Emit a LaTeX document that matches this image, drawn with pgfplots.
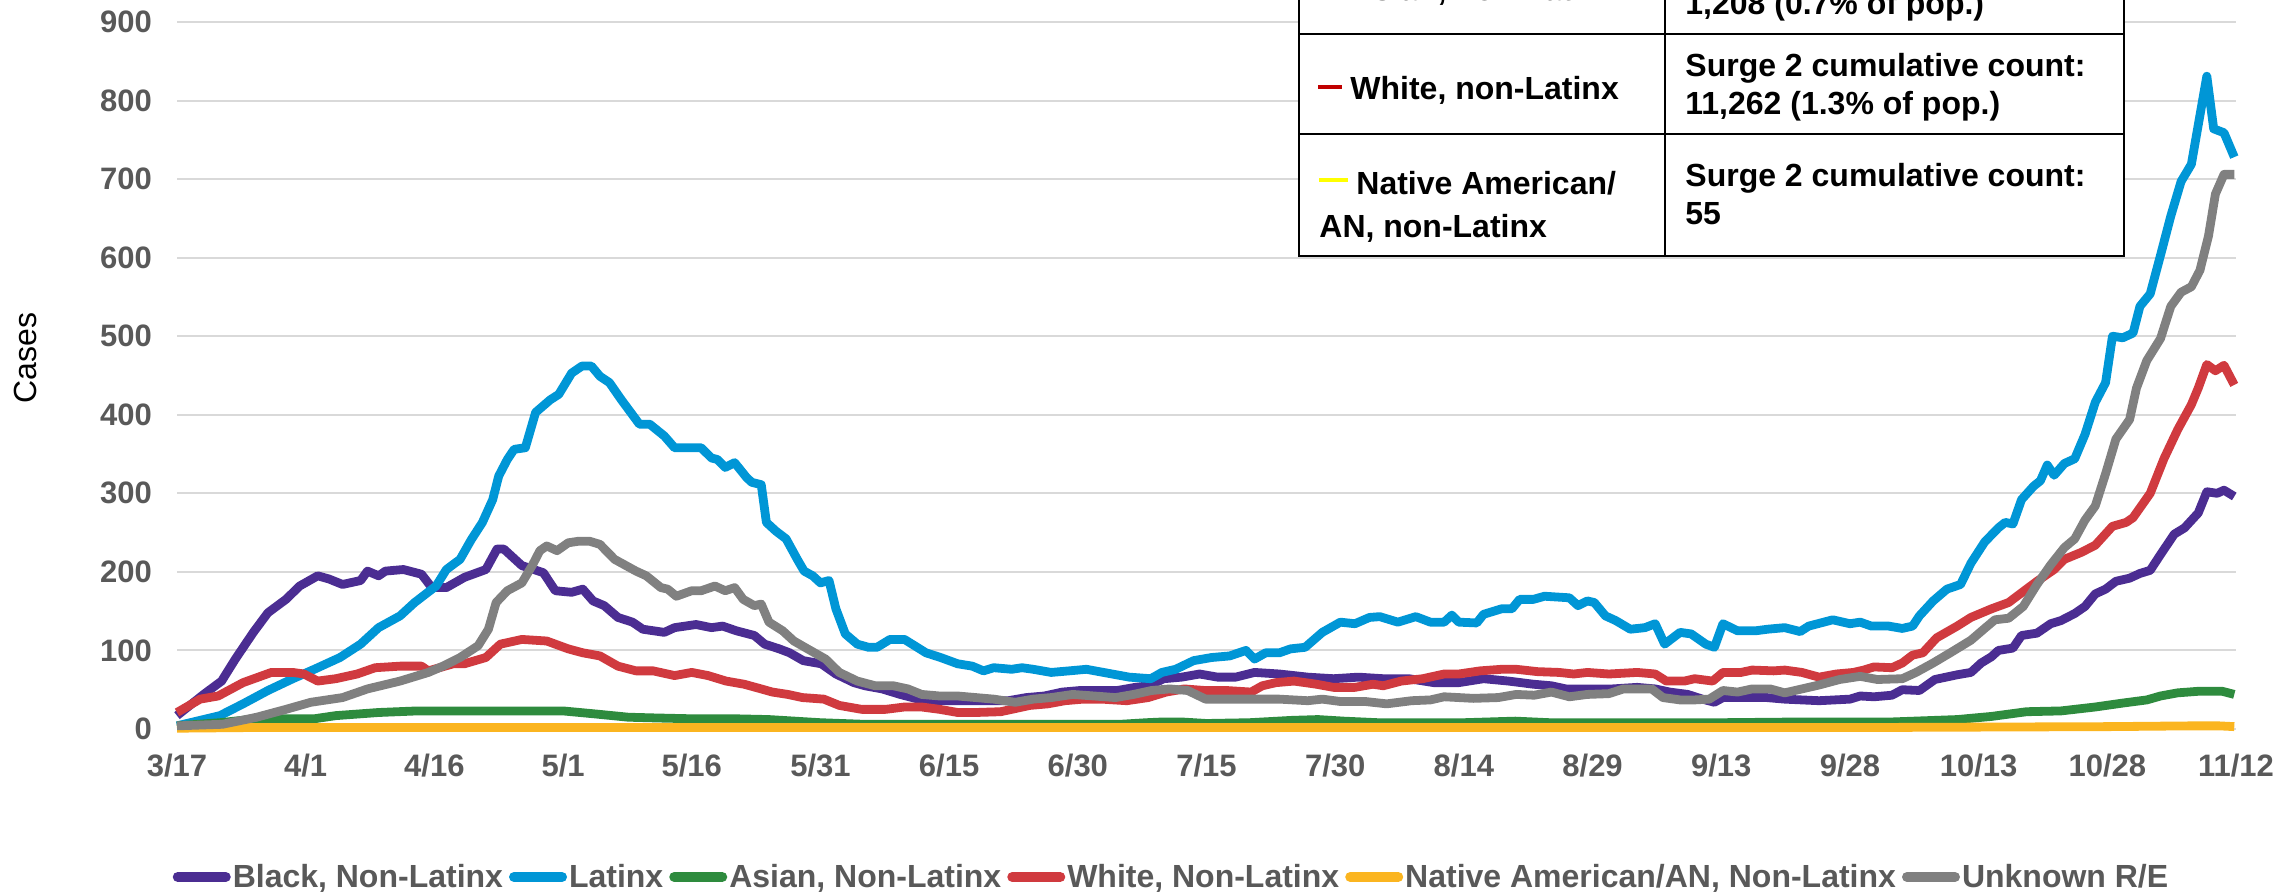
\documentclass[border=0pt]{standalone}
\usepackage{pgfplots}
\pgfplotsset{compat=1.18}
\usepackage{fontspec}
\setmainfont{Liberation Sans}

\definecolor{cBlack}{HTML}{4B2D92}
\definecolor{cLatinx}{HTML}{0096D6}
\definecolor{cAsian}{HTML}{2E8B3E}
\definecolor{cWhite}{HTML}{D03A3F}
\definecolor{cNative}{HTML}{FBB520}
\definecolor{cUnknown}{HTML}{808080}
\definecolor{tickgray}{HTML}{595959}
\definecolor{gridgray}{HTML}{D9D9D9}
\definecolor{tabRed}{HTML}{C00000}
\definecolor{tabYellow}{HTML}{FFFF00}

\begin{document}
\begin{tikzpicture}[x=1pt,y=1pt]
\useasboundingbox (0,0) rectangle (1146,446);
\begin{axis}[
  at={(88.5pt,81.5pt)}, anchor=south west,
  scale only axis, width=1029.5pt, height=353.5pt,
  xmin=0, xmax=240, ymin=0, ymax=900,
  clip=false,
  axis line style={draw=none},
  tick style={draw=none},
  ymajorgrids, major grid style={color=gridgray, line width=1pt},
  ytick={0,100,...,900},
  xtick={0,15,...,240},
  xticklabels={3/17,4/1,4/16,5/1,5/16,5/31,6/15,6/30,7/15,7/30,8/14,8/29,9/13,9/28,10/13,10/28,11/12},
  /pgf/number format/assume math mode=true,
  tick label style={font=\fontsize{15.5}{18}\selectfont\bfseries, text=tickgray},
  yticklabel style={xshift=-9pt},
  xticklabel style={yshift=-9pt},
  every axis plot/.append style={line width=4.4pt, line join=round, no marks},
  legend columns=6,
  legend image code/.code={\draw[#1, line width=5pt, line cap=round] (2.5pt,0pt) -- (26.5pt,0pt);},
  legend style={at={(0.483,-0.2093)}, anchor=center, draw=none, fill=none,
    font=\fontsize{16}{19}\selectfont\bfseries, text=tickgray,
    inner sep=0pt, nodes={inner sep=1pt},
    /tikz/every even column/.append style={column sep=2pt}},
]
% Black, Non-Latinx
\addplot[cBlack] coordinates {
(0,17) (3.1,44) (5.2,61) (6.8,89) (8.9,123) (10.6,148) (12.7,165) (14.3,182) (16.4,195) (17.7,191) (19.3,184) (21.4,189) (22.2,201) (23.5,195) (24.3,201) (26.4,203) (28.5,197) (29.7,180) (31.4,180) (33.5,193) (36,203) (37.3,229) (38.1,229) (40.2,208) (42.7,199) (44.1,176) (46,174) (47.3,178) (48.5,163) (49.8,157) (51.4,142) (53.1,136) (54.3,127) (56.8,123) (58,129) (60.5,133) (62.3,129) (63.6,131) (65.2,125) (67.3,119) (68.5,108) (70.2,102) (71.4,97) (73,87) (75.1,83) (76.8,70) (78.9,59) (80.2,55) (82.2,51) (84.3,44) (86.4,38) (88.5,36) (90.6,36) (92.7,36) (94.8,36) (96.9,36) (99,40) (101.1,42) (103.2,47) (105.3,49) (107.4,49) (109.6,49) (111.7,53) (113.3,55) (115,64) (117.1,66) (119.2,70) (121.3,66) (123.4,66) (125.6,72) (128.5,70) (131.8,66) (134.8,64) (137.7,66) (140.6,64) (143.6,64) (146.5,59) (149.4,59) (152.3,64) (155.2,61) (158.1,57) (160.2,55) (161.9,51) (164.4,51) (167.3,51) (170.2,53) (172.3,51) (174,47) (176.1,44) (177.8,38) (179.2,34) (180.2,40) (182.7,40) (185.3,40) (187.4,38) (191.4,36) (195,38) (196.2,42) (197.8,41) (199.9,43) (201.1,50) (203.1,49) (204.9,63) (207.5,69) (209.1,72) (210.3,84) (211.5,92) (212.3,100) (214,103) (215,119) (216.8,122) (218.4,134) (219.6,138) (221.2,147) (222.4,156) (223.6,172) (224.8,178) (226,188) (227.6,192) (228.8,198) (230,202) (231.2,222) (232.8,248) (234,256) (235.6,275) (236.6,302) (237.8,300) (238.6,304) (239.8,296)
};
\addlegendentry{Black, Non-Latinx}
% Latinx
\addplot[cLatinx] coordinates {
(0,4) (5,17) (7.7,32) (10.6,49) (13.5,64) (16,76) (19,91) (21.4,108) (23.5,129) (26,144) (27.7,161) (30.2,182) (31.4,203) (33,216) (34.3,241) (35.6,263) (36.8,292) (37.5,322) (38.5,343) (39.3,356) (40.6,358) (41.8,403) (43.5,419) (44.5,426) (46,453) (47.2,462) (48.3,462) (49.3,449) (50.4,441) (51.8,419) (53.9,388) (55.1,388) (56.8,373) (58,358) (59.3,358) (61.1,358) (62.3,345) (63,343) (63.9,333) (65,339) (66.4,320) (67,314) (68.1,311) (68.7,263) (69.8,252) (71,242) (72.3,216) (73.1,201) (74.1,195) (75,186) (76,189) (76.8,153) (77.9,121) (79.3,108) (80.6,104) (81.6,104) (83.1,114) (84.8,114) (87.3,97) (89,91) (91,83) (92.7,80) (94,74) (95.2,78) (97.3,76) (98.5,78) (99.8,76) (101.9,72) (104,74) (106,76) (109,70) (111,66) (113.5,64) (114.8,72) (116.4,76) (118.5,87) (120.6,91) (122.7,93) (124.6,100) (125.6,89) (126.9,97) (128.5,97) (129.8,102) (131.5,104) (133.5,123) (135.6,136) (137.3,134) (139,142) (140.2,143) (142.3,136) (144.4,143) (146.1,136) (147.7,136) (148.6,145) (149.4,136) (151.5,135) (152.3,146) (154.4,153) (155.6,153) (156.5,165) (158.1,165) (159.4,169) (162.3,167) (163.3,157) (164.4,163) (165.2,161) (166.5,144) (167.7,138) (169.4,127) (171.1,129) (172.3,134) (173.4,108) (175.2,123) (176.5,121) (178.2,108) (179.2,104) (180.2,134) (181.9,125) (184,125) (185.4,127) (187.4,129) (189.2,124) (190.2,131) (193,139) (195,134) (196.2,136) (197.5,131) (199.5,131) (201.1,128) (202.3,131) (203.1,144) (204.7,163) (206.3,178) (207.9,184) (209.1,211) (210.7,238) (212.3,256) (213.1,263) (214,261) (215,292) (216.4,309) (217.2,316) (218,336) (218.8,323) (220,338) (221.2,344) (222.4,375) (223.6,416) (224.8,441) (225.6,500) (226.8,498) (228,504) (228.8,538) (230,554) (231.2,603) (232.4,653) (233.6,697) (234.8,719) (235.6,769) (236.6,831) (237.4,764) (238.6,759) (239.8,728)
};
\addlegendentry{Latinx}
% Asian, Non-Latinx
\addplot[cAsian] coordinates {
(0,4) (5,8) (9.3,13) (16,13) (18.5,17) (23.5,21) (28,23) (33.5,23) (40,23) (45,23) (48.9,19) (52.6,15) (56,14) (60,13) (65,13) (69,12) (72,10) (75,8) (80,6) (90,6) (100,6) (110,6) (113,8) (115,9) (117,9) (120,7) (125,8) (130,11) (133,12) (136,10) (140,8) (150,8) (156,10) (160,8) (170,8) (180,8) (190,9) (200,9) (207.5,12) (211.5,16) (215.6,22) (219.6,23) (223.6,28) (226.8,33) (229.6,37) (231.2,42) (233.2,46) (235.6,48) (238.4,48) (239.8,44)
};
\addlegendentry{Asian, Non-Latinx}
% White, Non-Latinx
\addplot[cWhite] coordinates {
(0,21) (2.7,38) (4.8,42) (7.7,59) (11,72) (13.5,72) (14.8,70) (16.4,61) (18.5,64) (21,70) (23.1,78) (26,80) (28.5,80) (29.3,74) (32.2,83) (33.5,83) (36,91) (37.7,108) (40.2,114) (43.1,112) (45.6,102) (47.3,97) (49.3,93) (51.4,80) (53.5,74) (55.5,74) (58,68) (60,72) (61.9,68) (64,61) (66.1,57) (68.1,51) (69.4,47) (71.2,44) (72.9,40) (75.4,38) (77.2,30) (79.8,25) (82.6,25) (84.8,28) (86.8,28) (88.9,25) (91,21) (93.1,21) (96,22) (97.3,25) (99.4,30) (101.5,32) (103.5,36) (105.6,38) (107.8,38) (110.7,36) (113.2,40) (115.3,47) (117.4,51) (119.8,49) (122.3,49) (125.2,47) (126.5,55) (128.1,59) (130.2,61) (132.8,57) (134.8,53) (137.3,53) (139.4,57) (140.6,55) (142.7,61) (145.2,64) (147.7,70) (149.4,70) (151.9,74) (154.4,76) (156.1,76) (158.6,73) (161.1,72) (162.8,70) (164.4,72) (166.9,70) (170.2,72) (172.3,70) (173.6,61) (175.7,61) (176.9,64) (179,61) (180.2,72) (182.3,72) (183.6,75) (186.1,74) (187.4,75) (189.4,72) (191.4,66) (193.4,70) (195.4,72) (196.6,75) (197.8,79) (199.9,78) (201.1,84) (202.3,94) (203.5,97) (205.1,116) (207.5,131) (209.1,142) (211.5,153) (213.5,161) (215.2,175) (216.8,188) (218.8,203) (220,216) (222,225) (223.6,234) (225.6,258) (227.2,263) (228,269) (230,300) (231.6,344) (233.2,381) (234.8,413) (235.6,434) (236.6,464) (237.6,456) (238.6,463) (239.8,438)
};
\addlegendentry{White, Non-Latinx}
% Native American/AN, Non-Latinx
\addplot[cNative] coordinates {
(0,1) (10,2) (50,2) (100,2) (150,2) (200,2) (225,3) (235,4) (238,4) (239.8,3)
};
\addlegendentry{Native American/AN, Non-Latinx}
% Unknown race/ethnicity
\addplot[cUnknown] coordinates {
(0,4) (5.3,6) (9.3,15) (12.7,25) (15.6,34) (19.3,40) (22.2,51) (26,61) (29.3,72) (31,80) (33,91) (35.1,106) (36.3,127) (37.2,161) (38.5,176) (40.2,186) (41.4,208) (42.3,227) (43.1,233) (44.3,227) (45.6,237) (46.8,239) (48.1,239) (49.3,235) (51,216) (53.5,201) (54.7,195) (56.4,180) (57.2,178) (58.2,169) (60,176) (61.1,176) (62.7,182) (63.9,176) (65,180) (66,165) (67.3,157) (68.1,159) (69,136) (70.6,125) (71.9,112) (73.5,102) (75.6,89) (77.2,72) (79.3,61) (81.4,55) (83.5,55) (85.2,51) (86.8,44) (88.9,42) (91,42) (93.1,40) (95.2,38) (97.7,34) (99.8,38) (101.9,40) (104.4,44) (106.9,42) (109.4,40) (111.5,44) (113.6,49) (115.7,51) (117.8,49) (119.9,38) (122.4,38) (125,38) (128.5,38) (131.8,36) (133.5,38) (135.6,35) (138.5,35) (141,32) (143.9,36) (146.1,37) (147.7,41) (151.1,39) (154,40) (156.1,44) (158.2,43) (160.2,47) (162.3,41) (164.4,44) (166.9,45) (168.6,51) (171.9,51) (173.2,40) (175.2,37) (176.9,37) (178.6,38) (180.2,49) (181.9,47) (183.6,51) (185.7,51) (187.4,46) (189,50) (191.4,56) (193.8,63) (196.2,67) (198.2,63) (201.1,64) (202.7,72) (204.7,84) (206.7,97) (209.1,113) (210.7,128) (211.9,139) (213.5,141) (215.2,156) (216.8,184) (218.4,209) (220,231) (221.2,242) (222.4,266) (223.6,284) (224.8,325) (226,369) (227.6,394) (228.4,434) (229.6,469) (231.2,497) (232.4,538) (233.6,556) (234.8,563) (235.8,584) (236.8,628) (237.6,681) (238.6,706) (239.8,706)
};
\addlegendentry{Unknown R/E}
\end{axis}

% y-axis title
\node[rotate=90, font=\fontsize{16}{19}\selectfont] at (12.5,267) {Cases};

% surge summary table
\begin{scope}[line width=1.3pt]
\filldraw[fill=white, draw=black] (649.5,318) rectangle (1062,500);
\draw (649.5,429) -- (1062,429);
\draw (649.5,379) -- (1062,379);
\draw (832.5,318) -- (832.5,500);
\end{scope}
\begin{scope}[every node/.style={anchor=base west, inner sep=0pt, font=\fontsize{16}{19}\selectfont\bfseries}]
% Asian row
\draw[cAsian, line width=1.7pt] (659,457) -- (671,457);
\node at (675,445.5) {Asian, non-Latinx};
\node at (842.5,457.5) {Surge 2 cumulative count:};
\node at (842.5,438.5) {1,208 (0.7\% of pop.)};
% White row
\draw[tabRed, line width=1.7pt] (659,402.5) -- (671,402.5);
\node at (675,396) {White, non-Latinx};
\node at (842.5,407.5) {Surge 2 cumulative count:};
\node at (842.5,388.5) {11,262 (1.3\% of pop.)};
% Native American row
\draw[tabYellow, line width=1.7pt] (659.5,356) -- (674,356);
\node at (678,348.5) {Native American/};
\node at (659.5,327) {AN, non-Latinx};
\node at (842.5,352.5) {Surge 2 cumulative count:};
\node at (842.5,333.5) {55};
\end{scope}
\end{tikzpicture}
\end{document}
